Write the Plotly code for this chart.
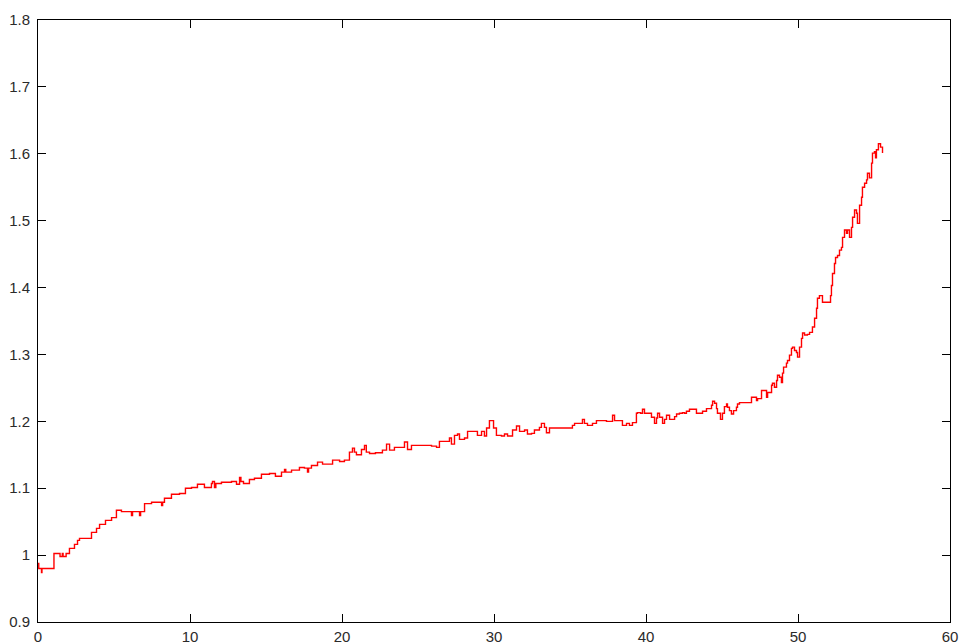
import plotly.graph_objects as go

# Series values
x_vals = [
    0.0, 0.05, 0.23, 0.26, 0.95, 1.05, 1.41, 1.45, 1.6, 1.65, 1.81, 1.85,
    2.07, 2.40, 2.60, 2.73, 3.39, 3.52, 3.85, 4.05, 4.44, 4.84, 5.16, 5.49,
    6.09, 6.15, 6.22, 6.41, 6.68, 6.75, 7.01, 7.47, 8.0, 8.13, 8.2, 8.32,
    8.78, 9.31, 9.70, 10.1, 10.49, 10.95, 11.41, 11.48, 11.61, 11.7, 12.07,
    12.73, 13.06, 13.26, 13.35, 13.52, 13.91, 14.24, 14.70, 15.23, 15.62,
    16.02, 16.22, 16.3, 16.68, 17.2, 17.53, 17.73, 17.8, 17.99, 18.39, 18.72,
    19.18, 19.38, 19.84, 20.16, 20.49, 20.69, 20.82, 20.95, 21.28, 21.48,
    21.6, 21.81, 22.2, 22.66, 22.93, 23.13, 23.45, 23.98, 24.11, 24.31,
    24.57, 25.1, 25.89, 26.22, 26.41, 26.94, 27.07, 27.2, 27.4, 27.6, 27.73,
    28.06, 28.26, 28.72, 28.91, 29.18, 29.37, 29.51, 29.7, 29.97, 30.16,
    30.49, 30.69, 30.89, 31.22, 31.48, 31.68, 32.01, 32.2, 32.47, 32.66,
    32.99, 33.12, 33.32, 33.45, 33.65, 34.18, 35.16, 35.30, 35.82, 35.95,
    36.15, 36.41, 36.48, 36.74, 37.27, 37.40, 37.73, 37.80, 37.93, 38.26,
    38.45, 38.72, 38.91, 39.11, 39.37, 39.44, 39.64, 39.77, 39.90, 40.10,
    40.36, 40.56, 40.69, 40.76, 40.89, 41.09, 41.22, 41.35, 41.55, 41.74,
    41.88, 42.01, 42.20, 42.40, 42.53, 42.66, 42.86, 43.19, 43.32, 43.52,
    43.72, 43.98, 44.18, 44.31, 44.38, 44.51, 44.64, 44.70, 44.90, 45.03,
    45.16, 45.30, 45.36, 45.49, 45.62, 45.76, 45.95, 46.02, 46.15, 46.81,
    46.94, 47.14, 47.27, 47.34, 47.6, 47.73, 47.93, 48.0, 48.26, 48.32,
    48.45, 48.59, 48.65, 48.78, 48.91, 48.98, 49.05, 49.24, 49.31, 49.44,
    49.57, 49.64, 49.77, 49.9, 49.97, 50.10, 50.23, 50.30, 50.43, 50.62,
    50.76, 50.95, 51.09, 51.22, 51.28, 51.41, 51.61, 51.94, 52.14, 52.20,
    52.27, 52.40, 52.47, 52.60, 52.73, 52.86, 52.93, 53.06, 53.19, 53.26,
    53.39, 53.52, 53.59, 53.72, 53.85, 53.91, 54.05, 54.18, 54.24, 54.38,
    54.51, 54.57, 54.70, 54.84, 54.90, 55.03, 55.10, 55.16, 55.29, 55.43,
    55.49, 55.56,
]
y_vals = [
    0.9875, 0.980, 0.974, 0.980, 0.980, 1.0025, 1.0025, 0.998, 1.0025, 0.998,
    0.998, 1.0025,
    1.010, 1.016, 1.022, 1.025, 1.025, 1.034, 1.040, 1.046, 1.052, 1.056,
    1.067, 1.065,
    1.065, 1.059, 1.065, 1.065, 1.059, 1.065, 1.077, 1.079, 1.079, 1.074,
    1.079, 1.085,
    1.091, 1.092, 1.100, 1.101, 1.106, 1.101, 1.107, 1.110, 1.101, 1.107,
    1.109,
    1.110, 1.106, 1.116, 1.110, 1.107, 1.113, 1.115, 1.121, 1.122, 1.118,
    1.124, 1.128, 1.124, 1.127, 1.131, 1.130, 1.124, 1.130, 1.134, 1.139,
    1.136,
    1.136, 1.142, 1.140, 1.142, 1.154, 1.160, 1.154, 1.150, 1.158, 1.164,
    1.154, 1.152, 1.153, 1.157, 1.166, 1.157, 1.161, 1.161, 1.169, 1.158,
    1.164, 1.164, 1.163, 1.161, 1.170, 1.170, 1.175, 1.166, 1.179, 1.181,
    1.173,
    1.175, 1.185, 1.185, 1.179, 1.185, 1.178, 1.190, 1.201, 1.190, 1.179,
    1.178, 1.181, 1.178, 1.187, 1.193, 1.185, 1.187, 1.181, 1.182, 1.187,
    1.191, 1.197, 1.191, 1.183, 1.190, 1.190, 1.194, 1.197, 1.203, 1.197,
    1.194, 1.194, 1.197, 1.201, 1.201, 1.200, 1.200, 1.209, 1.201, 1.201,
    1.194, 1.197, 1.194, 1.198, 1.212, 1.213, 1.212, 1.218, 1.212, 1.212,
    1.206, 1.197, 1.205, 1.212, 1.206, 1.197, 1.203, 1.209, 1.203, 1.203,
    1.207, 1.211, 1.212, 1.213, 1.212, 1.215, 1.218, 1.218, 1.212, 1.212,
    1.215, 1.219, 1.219, 1.224, 1.230, 1.227, 1.219, 1.212, 1.203, 1.212,
    1.222, 1.226, 1.221, 1.216, 1.211, 1.216, 1.221, 1.226, 1.228, 1.228,
    1.236, 1.236, 1.231, 1.234, 1.246, 1.246, 1.236, 1.243, 1.254, 1.257,
    1.251, 1.261, 1.269, 1.266, 1.258, 1.272, 1.281, 1.287, 1.291, 1.299,
    1.309, 1.311, 1.306, 1.303, 1.296, 1.311, 1.324, 1.332, 1.329, 1.330,
    1.333, 1.341, 1.354, 1.369, 1.384, 1.388, 1.378, 1.378, 1.388, 1.403,
    1.421, 1.436, 1.445, 1.448, 1.456, 1.460, 1.475, 1.486, 1.481, 1.486,
    1.475, 1.490, 1.505, 1.516, 1.511, 1.496, 1.523, 1.535, 1.550, 1.556,
    1.561, 1.571, 1.564, 1.586, 1.601, 1.603, 1.594, 1.606, 1.615, 1.610,
    1.610, 1.601,
]

x_ticks = [0, 10, 20, 30, 40, 50, 60]
y_ticks = [0.9, 1.0, 1.1, 1.2, 1.3, 1.4, 1.5, 1.6, 1.7, 1.8]
y_tick_text = ["0.9", "1", "1.1", "1.2", "1.3", "1.4", "1.5", "1.6", "1.7", "1.8"]

fig = go.Figure()
fig.add_trace(go.Scatter(
    x=x_vals, y=y_vals, mode="lines",
    line=dict(color="#ff0000", width=1.4, shape="hv"),
    showlegend=False, hoverinfo="skip",
))

axis_common = dict(
    showgrid=False, zeroline=False, showline=True, linecolor="#000000",
    linewidth=1, mirror="ticks", ticks="inside", ticklen=8,
    tickcolor="#000000", tickwidth=1, automargin=False,
    tickfont=dict(family="Liberation Sans, Arial, sans-serif", size=15,
                  color="#2a2a2a"),
)

fig.update_layout(
    width=960, height=644,
    paper_bgcolor="#ffffff", plot_bgcolor="#ffffff",
    margin=dict(l=38, r=10, t=20, b=22),
    xaxis=dict(range=[0, 60], tickvals=x_ticks, ticklabelstandoff=1,
               **axis_common),
    yaxis=dict(range=[0.9, 1.8], tickvals=y_ticks, ticktext=y_tick_text,
               ticklabelstandoff=4, **axis_common),
)

fig.write_html(
    "out.html",
    config={"displayModeBar": False, "staticPlot": True},
    post_script=(
        "document.documentElement.style.margin='0';"
        "document.body.style.margin='0';"
        "document.body.style.padding='0';"
        "document.body.style.overflow='hidden';"
    ),
)
